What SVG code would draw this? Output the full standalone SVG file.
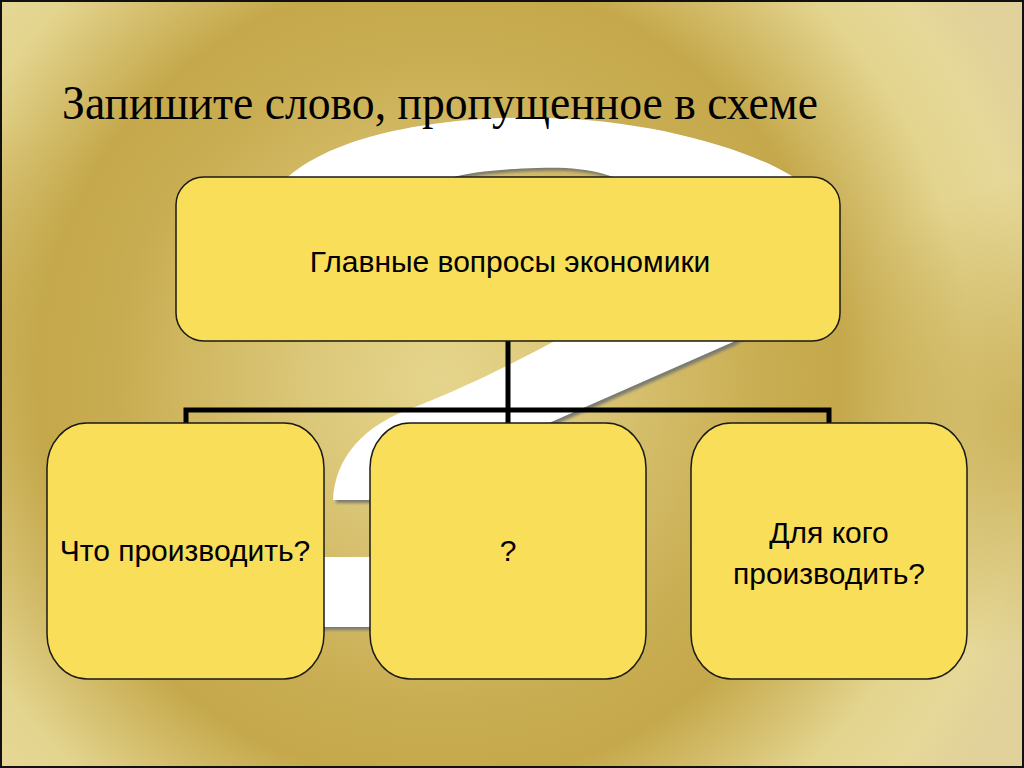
<svg xmlns="http://www.w3.org/2000/svg" width="1024" height="768" viewBox="0 0 1024 768">
  <defs>
    <radialGradient id="bg" gradientUnits="userSpaceOnUse" cx="440" cy="380" r="650">
      <stop offset="0" stop-color="#e5d58c"/>
      <stop offset="0.2" stop-color="#dcc87a"/>
      <stop offset="0.5" stop-color="#c9ad52"/>
      <stop offset="0.62" stop-color="#c5a84b"/>
      <stop offset="0.82" stop-color="#e3d48e"/>
      <stop offset="0.92" stop-color="#e6d898"/>
      <stop offset="1" stop-color="#e0d29a"/>
    </radialGradient>
    <radialGradient id="dkR" gradientUnits="userSpaceOnUse" cx="1040" cy="420" r="240">
      <stop offset="0" stop-color="#c4a84c" stop-opacity="0.8"/>
      <stop offset="1" stop-color="#c4a84c" stop-opacity="0"/>
    </radialGradient>
    <radialGradient id="dkL" gradientUnits="userSpaceOnUse" cx="-20" cy="320" r="200">
      <stop offset="0" stop-color="#c4a84c" stop-opacity="0.6"/>
      <stop offset="1" stop-color="#c4a84c" stop-opacity="0"/>
    </radialGradient>
    <filter id="soft" x="-10%" y="-10%" width="120%" height="120%">
      <feGaussianBlur stdDeviation="1.5"/>
    </filter>
    <path id="qm" d="M280,185 C330,130 460,115 548,118 C650,120 760,150 805,185 C835,230 800,300 733,342 L540,427 C490,450 450,470 430,500 L333,500 C335,460 360,425 420,405 C470,385 520,360 560,338 C620,300 660,250 640,195 C620,172 580,166 537,168 C500,169 470,172 450,178 L420,220 L300,240 Z"/>
  </defs>
  <style>
    .box { fill: #f9de59; stroke: #1a1a1a; stroke-width: 1.5; }
    .lbl { font-family: "Liberation Sans", Arial, sans-serif; font-size: 30px; fill: #000; text-anchor: middle; }
    .conn { fill: none; stroke: #000; stroke-width: 5; stroke-linejoin: miter; stroke-linecap: butt; }
  </style>

  <!-- background -->
  <rect x="0" y="0" width="1024" height="768" fill="url(#bg)"/>
  <rect x="0" y="0" width="1024" height="768" fill="url(#dkR)"/>
  <rect x="0" y="0" width="1024" height="768" fill="url(#dkL)"/>

  <!-- big background question mark -->
  <g id="question-mark">
    <use href="#qm" transform="translate(3,3)" fill="#7a7a70" filter="url(#soft)"/>
    <rect x="303" y="560" width="120" height="70" fill="#7a7a70" filter="url(#soft)"/>
    <use href="#qm" fill="#ffffff"/>
    <rect x="300" y="557" width="120" height="70" fill="#ffffff"/>
  </g>

  <rect x="1" y="1" width="1022" height="766" fill="none" stroke="#111" stroke-width="2"/>

  <text id="title" x="62" y="119" font-family="'Liberation Serif', 'Times New Roman', serif" font-size="49" fill="#000" textLength="756" lengthAdjust="spacingAndGlyphs">Запишите слово, пропущенное в схеме</text>

  <g id="connectors">
    <path class="conn" d="M508,341 V423"/>
    <path class="conn" d="M186,423 V410 H829 V423"/>
  </g>

  <g id="node-main">
    <rect class="box" x="176" y="177" width="664" height="164" rx="28" ry="28"/>
    <text class="lbl" x="510" y="272">Главные вопросы экономики</text>
  </g>

  <g id="node-what">
    <rect class="box" x="47" y="423" width="277" height="256" rx="40" ry="45"/>
    <text class="lbl" x="185" y="561">Что производить?</text>
  </g>

  <g id="node-missing">
    <rect class="box" x="370" y="423" width="276" height="256" rx="40" ry="45"/>
    <text class="lbl" x="508" y="561">?</text>
  </g>

  <g id="node-whom">
    <rect class="box" x="691" y="423" width="276" height="256" rx="40" ry="45"/>
    <text class="lbl" x="829" y="543">Для кого</text>
    <text class="lbl" x="829" y="584">производить?</text>
  </g>
</svg>
